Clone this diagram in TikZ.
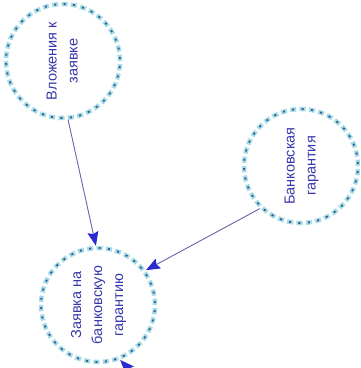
\documentclass[tikz,border=0pt]{standalone}
\usepackage{fontspec}
\setmainfont{Liberation Sans}
\usetikzlibrary{arrows.meta}
\definecolor{ringc}{HTML}{A4DCE8}
\definecolor{ringd}{HTML}{3A5688}
\definecolor{txt}{HTML}{3838AA}
\definecolor{edgec}{HTML}{6464B0}
\definecolor{tipc}{HTML}{2A2AD0}
\begin{document}
\begin{tikzpicture}[x=1pt,y=-1pt,
  ent/.style={circle, minimum size=114pt, inner sep=0pt, draw=ringc, line width=4.5pt,
    dash pattern=on 6.2pt off 3.225pt, text=txt, font=\fontsize{14.5}{21}\selectfont,
    postaction={draw=ringd, line width=1.8pt, dash pattern=on 2pt off 7.425pt, dash phase=7.325pt}},
  link/.style={draw=edgec, line width=0.9pt,
    -{Stealth[length=14pt,width=11pt,inset=2pt,color=tipc]}}]
\useasboundingbox (0,0) rectangle (360,368);
\clip (0,0) rectangle (360,368);
\node[ent] (c1) at (63,61) {\rotatebox{90}{\begin{tabular}{@{}c@{}}Вложения к\\заявке\end{tabular}}};
\node[ent] (c2) at (301,166) {\rotatebox{90}{\begin{tabular}{@{}c@{}}Банковская\\гарантия\end{tabular}}};
\node[ent] (c3) at (98,305) {\rotatebox{90}{\begin{tabular}{@{}c@{}}Заявка на\\банковскую\\гарантию\end{tabular}}};
\coordinate (ext) at (150,392);
\draw[link] (c1.275) -- (c3.92);
\draw[link] (c2.226) -- (c3.36);
\draw[link] (ext) -- (c3.292);
\end{tikzpicture}
\end{document}
